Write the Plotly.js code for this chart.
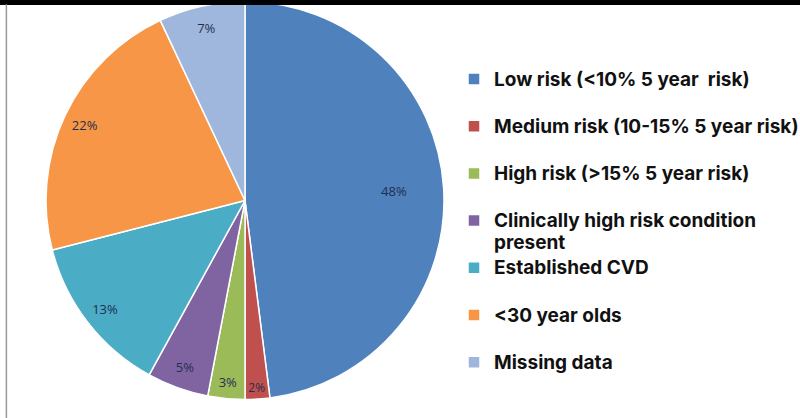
<!DOCTYPE html>
<html>
<head>
<meta charset="utf-8">
<script src="https://cdn.plot.ly/plotly-3.0.1.min.js"></script>
<style>html,body{margin:0;padding:0;background:#fff;}#chart{width:800px;height:418px;}</style>
</head>
<body>
<div id="chart"></div>
<script>
var categories = [
  "Low risk (<10% 5 year  risk)",
  "Medium risk (10-15% 5 year risk)",
  "High risk (>15% 5 year risk)",
  "Clinically high risk condition|present",
  "Established CVD",
  "<30 year olds",
  "Missing data"
];
var values = [48, 2, 3, 5, 13, 22, 7];
var colors = ["#4F81BD", "#C0504D", "#9BBB59", "#8064A2", "#4BACC6", "#F79646", "#A0B7DD"];

// legend labels: each entry takes two lines; text drawn slightly larger than the line pitch
var legendLabels = categories.map(function(c){
  var parts = c.split("|");
  if (parts.length < 2) parts.push(" ");
  return parts.map(function(p){
    return '<span style="font-size:19px">' + p.replace(/</g, "&lt;").replace(/>/g, "&gt;") + '</span>';
  }).join("<br>");
});

var pieDomain = {x: [0.0525, 0.56], y: [0.0443, 0.9964]};
var clear = colors.map(function(){return "rgba(0,0,0,0)";});
var labelFont = {family: "Open Sans, sans-serif", size: 13, color: "#1F2F4F"};

var slices = {
  type: "pie",
  labels: legendLabels,
  values: values,
  sort: false,
  direction: "clockwise",
  rotation: 0,
  marker: {colors: colors, line: {color: "#ffffff", width: 1.5}},
  textinfo: "none",
  domain: pieDomain,
  hoverinfo: "label+percent"
};

function ring(hole, showFn) {
  return {
    type: "pie",
    labels: legendLabels,
    values: values,
    sort: false,
    direction: "clockwise",
    rotation: 0,
    hole: hole,
    showlegend: false,
    marker: {colors: clear, line: {width: 0}},
    texttemplate: values.map(function(v, i){ return showFn(i) ? "%{percent:.0%}" : ""; }),
    textposition: "inside",
    insidetextorientation: "horizontal",
    textfont: labelFont,
    domain: pieDomain,
    hoverinfo: "skip"
  };
}

// the largest slice is labelled at mid-ring, the others near the rim
var innerRing = ring(0.5, function(i){ return i === 0; });
var outerRing = ring(0.78, function(i){ return i !== 0; });

var layout = {
  width: 800, height: 418,
  margin: {l: 0, r: 0, t: 0, b: 0, autoexpand: false},
  paper_bgcolor: "#ffffff",
  showlegend: true,
  legend: {
    x: 0.5675, xanchor: "left", y: 0.853, yanchor: "top",
    valign: "top",
    font: {family: "Inter, sans-serif", size: 17, color: "#111111", weight: "bold"},
    itemwidth: 30
  },
  shapes: [
    {type: "rect", xref: "paper", yref: "paper", x0: 0, x1: 1, y0: 0.988, y1: 1, fillcolor: "#000000", line: {width: 0}},
    {type: "line", xref: "paper", yref: "paper", x0: 0.008, x1: 0.008, y0: 0, y1: 0.99, line: {color: "#999999", width: 1.5}}
  ]
};

Plotly.newPlot("chart", [slices, innerRing, outerRing], layout, {displayModeBar: false, staticPlot: true});
</script>
</body>
</html>
